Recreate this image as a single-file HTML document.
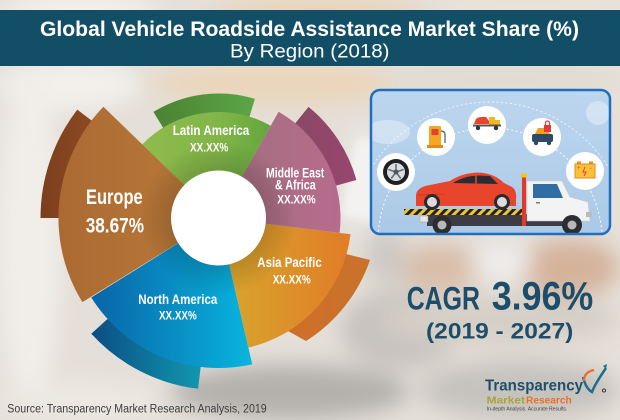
<!DOCTYPE html>
<html>
<head>
<meta charset="utf-8">
<style>
html,body{margin:0;padding:0;width:620px;height:420px;overflow:hidden;background:#e6e1da;}
#wrap{position:absolute;left:0;top:0;width:620px;height:420px;overflow:hidden;}
svg{display:block;position:absolute;left:0;top:0;overflow:hidden;}
.lbl{font-family:"Liberation Sans Narrow","Liberation Sans",sans-serif;font-weight:bold;fill:#ffffff;}
</style>
</head>
<body>
<div id="wrap">
<svg width="620" height="420" viewBox="0 0 620 420" xmlns="http://www.w3.org/2000/svg">
<defs>
  <filter id="blur" x="0" y="0" width="620" height="420" filterUnits="userSpaceOnUse"><feGaussianBlur stdDeviation="11" edgeMode="duplicate"/></filter>
  <filter id="blur2" x="-50%" y="-50%" width="200%" height="200%"><feGaussianBlur stdDeviation="4"/></filter>
  <linearGradient id="gEu" gradientUnits="userSpaceOnUse" x1="60" y1="0" x2="218" y2="0"><stop offset="0" stop-color="#ab6a32"/><stop offset="1" stop-color="#bb7b39"/></linearGradient>
  <linearGradient id="gEuB" gradientUnits="userSpaceOnUse" x1="40" y1="0" x2="100" y2="0"><stop offset="0" stop-color="#7d3e1e"/><stop offset="1" stop-color="#8e4b23"/></linearGradient>
  <linearGradient id="gLa" gradientUnits="userSpaceOnUse" x1="142" y1="0" x2="271" y2="0"><stop offset="0" stop-color="#8fbb4c"/><stop offset="0.6" stop-color="#82b548"/><stop offset="1" stop-color="#62a63e"/></linearGradient>
  <linearGradient id="gLaB" gradientUnits="userSpaceOnUse" x1="153" y1="0" x2="255" y2="0"><stop offset="0" stop-color="#4a8232"/><stop offset="1" stop-color="#5ca646"/></linearGradient>
  <linearGradient id="gMe" gradientUnits="userSpaceOnUse" x1="240" y1="0" x2="340" y2="0"><stop offset="0" stop-color="#a46f7f"/><stop offset="1" stop-color="#b86b8d"/></linearGradient>
  <linearGradient id="gMeB" gradientUnits="userSpaceOnUse" x1="300" y1="0" x2="357" y2="0"><stop offset="0" stop-color="#8a4866"/><stop offset="1" stop-color="#9a4570"/></linearGradient>
  <linearGradient id="gAp" gradientUnits="userSpaceOnUse" x1="235" y1="0" x2="350" y2="0"><stop offset="0" stop-color="#d8a22c"/><stop offset="1" stop-color="#e17c27"/></linearGradient>
  <linearGradient id="gApB" gradientUnits="userSpaceOnUse" x1="290" y1="0" x2="370" y2="0"><stop offset="0" stop-color="#cd6f2a"/><stop offset="1" stop-color="#c9722b"/></linearGradient>
  <linearGradient id="gNa" gradientUnits="userSpaceOnUse" x1="90" y1="0" x2="252" y2="0"><stop offset="0" stop-color="#0a63a7"/><stop offset="1" stop-color="#08b5de"/></linearGradient>
  <linearGradient id="gNaB" gradientUnits="userSpaceOnUse" x1="90" y1="0" x2="200" y2="0"><stop offset="0" stop-color="#0b4c84"/><stop offset="1" stop-color="#1197ae"/></linearGradient>
  <radialGradient id="gShade" gradientUnits="userSpaceOnUse" cx="218.5" cy="218" r="78">
    <stop offset="0.58" stop-color="#000" stop-opacity="0.16"/>
    <stop offset="1" stop-color="#000" stop-opacity="0"/>
  </radialGradient>
  <linearGradient id="gBox" x1="0" y1="0" x2="0" y2="1"><stop offset="0" stop-color="#bdd6ee"/><stop offset="1" stop-color="#abc9e7"/></linearGradient>
  <pattern id="stripe" patternUnits="userSpaceOnUse" width="6" height="6" patternTransform="rotate(45)">
    <rect width="6" height="6" fill="#f2c230"/><rect width="3" height="6" fill="#222"/>
  </pattern>
  <clipPath id="boxClip"><rect x="371" y="90" width="239" height="144" rx="9"/></clipPath>
</defs>

<!-- blurred photographic background -->
<g filter="url(#blur)">
  <rect x="0" y="0" width="620" height="420" fill="#e4dfd8"/>
  <ellipse cx="80" cy="14" rx="80" ry="14" fill="#f7f5f1"/>
  <ellipse cx="320" cy="14" rx="110" ry="14" fill="#e8d2b4"/>
  <ellipse cx="530" cy="14" rx="90" ry="14" fill="#ebe3d8"/>
  <ellipse cx="70" cy="85" rx="70" ry="25" fill="#f3f0ec"/>
  <ellipse cx="280" cy="84" rx="130" ry="22" fill="#ead6bb"/>
  <ellipse cx="500" cy="80" rx="120" ry="20" fill="#e2dbd1"/>
  <ellipse cx="30" cy="240" rx="30" ry="170" fill="#f1eee9"/>
  <ellipse cx="80" cy="400" rx="80" ry="20" fill="#ece8e2"/>
  <ellipse cx="290" cy="392" rx="120" ry="28" fill="#b4b1ad"/>
  <ellipse cx="400" cy="330" rx="60" ry="40" fill="#c7c3be"/>
  <ellipse cx="520" cy="390" rx="100" ry="30" fill="#c6c2bd"/>
  <ellipse cx="500" cy="320" rx="119" ry="25" fill="#d6cfc7"/>
  <ellipse cx="440" cy="268" rx="40" ry="25" fill="#d9bea9"/>
  <ellipse cx="570" cy="268" rx="50" ry="30" fill="#d5b39b"/>
  <ellipse cx="502" cy="262" rx="30" ry="18" fill="#eeeceb"/>
  <ellipse cx="385" cy="255" rx="20" ry="30" fill="#cdc9c4"/>
  <ellipse cx="610" cy="165" rx="10" ry="80" fill="#e6e0d7"/>
  <ellipse cx="362" cy="180" rx="16" ry="60" fill="#e9e7e4"/>
</g>
<!-- phone behind chart -->
<rect x="348" y="140" width="36" height="80" rx="6" fill="#f3f2f0" filter="url(#blur2)" transform="rotate(12 366 180)"/>

<!-- title banner -->
<rect x="0" y="10" width="620" height="56" fill="#134e67"/>
<text x="40" y="36" font-family="'Liberation Sans',sans-serif" font-weight="bold" font-size="21.5" fill="#ffffff" textLength="539" lengthAdjust="spacingAndGlyphs">Global Vehicle Roadside Assistance Market Share (%)</text>
<text x="230" y="57.3" font-family="'Liberation Sans',sans-serif" font-size="19" fill="#ffffff" textLength="159.5" lengthAdjust="spacingAndGlyphs">By Region (2018)</text>

<!-- back segments -->
<path d="M218.5,218 L77.3,109.6 A178,178 0 0 0 40.5,218 Z" fill="url(#gEuB)"/>
<path d="M218.5,218 L254.9,98.9 A124.5,124.5 0 0 0 153.4,111.9 Z" fill="url(#gLaB)"/>
<path d="M218.5,218 L308.5,106.9 A143,143 0 0 1 356.4,180 Z" fill="url(#gMeB)"/>
<path d="M300,260 L346,254 L370,260 A155,155 0 0 1 306,341 L288,331 Z" fill="url(#gApB)"/>
<path d="M218.5,218 L198.1,388.8 A172,172 0 0 1 91.3,333.8 Z" fill="url(#gNaB)"/>

<!-- front segments -->
<path d="M218.5,218 L252.2,364.2 A150,150 0 0 1 91.3,297.5 Z" fill="url(#gNa)"/>
<path d="M218.5,218 L350.5,234.2 A133,133 0 0 1 248.4,347.6 Z" fill="url(#gAp)"/>
<path d="M218.5,218 L270.7,125.7 A106,106 0 0 0 142.2,144.4 Z" fill="url(#gLa)"/>
<path d="M218.5,218 L278.6,111.8 A122,122 0 0 1 339.6,232.9 Z" fill="url(#gMe)"/>
<path d="M218.5,218 L103.4,106.8 A160,160 0 0 0 82.4,302.1 Z" fill="url(#gEu)"/>

<!-- inner shadow + hole -->
<circle cx="218.5" cy="218" r="78" fill="url(#gShade)"/>
<circle cx="218.5" cy="218" r="47.5" fill="#ffffff"/>

<!-- labels -->
<text class="lbl" x="172.7" y="135" font-size="13.5" textLength="76.6" lengthAdjust="spacingAndGlyphs">Latin America</text>
<text class="lbl" x="190" y="151.7" font-size="11.5" textLength="38.3" lengthAdjust="spacingAndGlyphs">XX.XX%</text>
<text class="lbl" x="266" y="177.3" font-size="13.5" textLength="58.3" lengthAdjust="spacingAndGlyphs">Middle East</text>
<text class="lbl" x="275" y="189.3" font-size="13.5" textLength="40.7" lengthAdjust="spacingAndGlyphs">&amp; Africa</text>
<text class="lbl" x="277.3" y="203.3" font-size="11.5" textLength="38.4" lengthAdjust="spacingAndGlyphs">XX.XX%</text>
<text class="lbl" x="257.3" y="267" font-size="13.5" textLength="64.4" lengthAdjust="spacingAndGlyphs">Asia Pacific</text>
<text class="lbl" x="272.7" y="283.3" font-size="11.5" textLength="38" lengthAdjust="spacingAndGlyphs">XX.XX%</text>
<text class="lbl" x="138.3" y="304" font-size="13.5" textLength="79" lengthAdjust="spacingAndGlyphs">North America</text>
<text class="lbl" x="159" y="319.3" font-size="11.5" textLength="37.7" lengthAdjust="spacingAndGlyphs">XX.XX%</text>
<text class="lbl" x="86" y="204" font-size="21" textLength="56.7" lengthAdjust="spacingAndGlyphs">Europe</text>
<text class="lbl" x="85.7" y="232.7" font-size="21" textLength="58.3" lengthAdjust="spacingAndGlyphs">38.67%</text>

<!-- illustration box -->
<rect x="371" y="90" width="239" height="144" rx="9" fill="url(#gBox)"/>
<g clip-path="url(#boxClip)">
  <ellipse cx="388" cy="132" rx="22" ry="12" fill="#ffffff" opacity="0.35"/>
  <ellipse cx="598" cy="113" rx="12" ry="12" fill="#ffffff" opacity="0.35"/>
  <circle cx="490" cy="240" r="112" fill="none" stroke="#ffffff" stroke-width="1" stroke-dasharray="2 2.5" opacity="0.9"/>
  <circle cx="490" cy="242" r="140" fill="none" stroke="#ffffff" stroke-width="1" stroke-dasharray="2 2.5" opacity="0.7"/>
  <!-- icon circles -->
  <circle cx="396" cy="172" r="19" fill="#ffffff"/>
  <circle cx="396" cy="172" r="13" fill="#1f1f22"/>
  <circle cx="396" cy="172" r="9" fill="#d9dde2"/>
  <g stroke="#6b6f76" stroke-width="1.6">
    <line x1="396" y1="172" x2="396" y2="164"/><line x1="396" y1="172" x2="403.6" y2="169.5"/>
    <line x1="396" y1="172" x2="400.7" y2="178.5"/><line x1="396" y1="172" x2="391.3" y2="178.5"/>
    <line x1="396" y1="172" x2="388.4" y2="169.5"/>
  </g>
  <circle cx="396" cy="172" r="2.5" fill="#555"/>

  <circle cx="436" cy="137" r="19" fill="#ffffff"/>
  <rect x="429" y="126" width="12" height="20" rx="1.5" fill="#f5a623"/>
  <rect x="431.5" y="129" width="7" height="6" fill="#e4432f"/>
  <rect x="427" y="145" width="16" height="3" fill="#e08a1a"/>
  <path d="M441,131 q4,0 4,4 v8" stroke="#555" stroke-width="1.2" fill="none"/>

  <circle cx="487" cy="125" r="19" fill="#ffffff"/>
  <path d="M474,124 L476,119 Q478,117 482,117 L486,117 L489,121 L489,124 Z" fill="#e8452c"/>
  <rect x="489" y="117" width="6" height="8" fill="#f5b71f"/>
  <rect x="495" y="120" width="5" height="5" fill="#f5b71f"/>
  <rect x="473" y="124.5" width="28" height="2" fill="#555"/>
  <circle cx="478" cy="128" r="2.2" fill="#333"/><circle cx="496" cy="128" r="2.2" fill="#333"/>

  <circle cx="542" cy="137" r="19" fill="#ffffff"/>
  <path d="M535,134 L538,128 L547,128 L550,134 Z" fill="#f0a020"/>
  <rect x="532" y="134" width="21" height="8" rx="2" fill="#2e4a66"/>
  <circle cx="536" cy="143" r="2.2" fill="#2e4a66"/><circle cx="549" cy="143" r="2.2" fill="#2e4a66"/>
  <rect x="544" y="125" width="7" height="7" fill="#e23a3a"/>
  <path d="M545.5,125 v-2 a2,2 0 0 1 4,0 v2" stroke="#e23a3a" stroke-width="1.2" fill="none"/>

  <circle cx="585" cy="171" r="19" fill="#ffffff"/>
  <rect x="575" y="164" width="20" height="14" fill="#f7c23a" stroke="#e58a1f" stroke-width="1"/>
  <rect x="577" y="161.5" width="4" height="2.5" fill="#e58a1f"/><rect x="589" y="161.5" width="4" height="2.5" fill="#e58a1f"/>
  <text x="577" y="170" font-family="'Liberation Sans',sans-serif" font-size="6" fill="#e4432f">+</text>
  <text x="589" y="170" font-family="'Liberation Sans',sans-serif" font-size="6" fill="#e4432f">−</text>
  <path d="M585,167 L583,172 L586,172 L584,176" stroke="#e4432f" stroke-width="1" fill="none"/>

  <!-- tow truck -->
  <rect x="427" y="214" width="152" height="12" fill="#3c3d44"/>
  <rect x="404" y="209" width="120" height="6" fill="url(#stripe)"/>
  <rect x="420" y="216" width="8" height="6" fill="#e8e8e8" stroke="#999" stroke-width="0.5"/>
  <rect x="522" y="177" width="4" height="49" fill="#e23a2a"/>
  <rect x="521" y="173.5" width="6" height="4" fill="#f5c518"/>
  <path d="M527,181 L562,181 L570,197 L588,202 L590,221 L527,221 Z" fill="#f3f3f3" stroke="#c7c7c7" stroke-width="0.6"/>
  <path d="M533,184 L557,184 L563,198 L533,198 Z" fill="#2f6ea5"/>
  <rect x="536" y="202" width="4" height="1.5" fill="#777"/>
  <rect x="586" y="212" width="6" height="5" fill="#bbb"/>
  <circle cx="442" cy="225" r="9.5" fill="#2d2d2f"/><circle cx="442" cy="225" r="4.5" fill="#b8b8b8"/>
  <circle cx="572" cy="225" r="10" fill="#2d2d2f"/><circle cx="572" cy="225" r="4.5" fill="#b8b8b8"/>
  <!-- red car -->
  <path d="M416,206 L416,195 Q417,187 430,185 L450,181 Q462,173 478,172.5 Q494,173 504,183 L512,187 Q517,190 516,200 L516,206 Z" fill="#e8452c"/>
  <path d="M453,183 Q464,176 478,175.5 L490,176 L498,184 Z" fill="#2b2b33"/>
  <line x1="476" y1="175.5" x2="476" y2="184" stroke="#e8452c" stroke-width="1.5"/>
  <path d="M418,195 L445,194" stroke="#c7331f" stroke-width="0.8"/>
  <circle cx="432" cy="202" r="8" fill="#2b2b2f"/><circle cx="432" cy="202" r="5" fill="#dcdcdc"/>
  <circle cx="502" cy="202" r="8" fill="#2b2b2f"/><circle cx="502" cy="202" r="5" fill="#dcdcdc"/>
</g>
<rect x="371" y="90" width="239" height="144" rx="9" fill="none" stroke="#1f6fc1" stroke-width="2.5"/>

<!-- CAGR -->
<text x="406.7" y="309.3" font-family="'Liberation Sans Narrow','Liberation Sans',sans-serif" font-weight="bold" font-size="32" fill="#1c4e6b" textLength="73.3" lengthAdjust="spacingAndGlyphs">CAGR</text>
<text x="491.7" y="309.3" font-family="'Liberation Sans Narrow','Liberation Sans',sans-serif" font-weight="bold" font-size="40" fill="#1c4e6b" textLength="101.6" lengthAdjust="spacingAndGlyphs">3.96%</text>
<text x="426" y="338.3" font-family="'Liberation Sans Narrow','Liberation Sans',sans-serif" font-weight="bold" font-size="22" fill="#1c4e6b" textLength="147.3" lengthAdjust="spacingAndGlyphs">(2019 - 2027)</text>

<!-- logo -->
<text x="485" y="390.7" font-family="'Liberation Sans Narrow','Liberation Sans',sans-serif" font-weight="bold" font-size="16" fill="#1d4f6e" textLength="98" lengthAdjust="spacingAndGlyphs">Transparency</text>
<path d="M583,377 Q586,389 592,392 Q595,384 606,368" stroke="#1d6e8c" stroke-width="2.5" fill="none"/>
<path d="M584,381 Q584,372 594,370" stroke="#e8702a" stroke-width="2.2" fill="none"/>
<path d="M603,366 L607,364 L606,369 Z" fill="#1d6e8c"/>
<circle cx="604" cy="390.5" r="1.6" fill="none" stroke="#333" stroke-width="0.9"/>
<text x="486.7" y="403.3" font-family="'Liberation Sans',sans-serif" font-weight="bold" font-size="10" fill="#a9a33a" textLength="38.3" lengthAdjust="spacingAndGlyphs">Market</text>
<text x="526" y="403.3" font-family="'Liberation Sans',sans-serif" font-weight="bold" font-size="10" fill="#e8702a" textLength="45.7" lengthAdjust="spacingAndGlyphs">Research</text>
<text x="486.7" y="410.7" font-family="'Liberation Sans',sans-serif" font-size="5.5" fill="#444" textLength="80.6" lengthAdjust="spacingAndGlyphs">In-depth Analysis. Accurate Results.</text>

<!-- source -->
<text x="7.3" y="412.7" font-family="'Liberation Sans',sans-serif" font-size="11.5" fill="#3d3d3d" textLength="259.4" lengthAdjust="spacingAndGlyphs">Source: Transparency Market Research Analysis, 2019</text>
</svg>
</div>
</body>
</html>
